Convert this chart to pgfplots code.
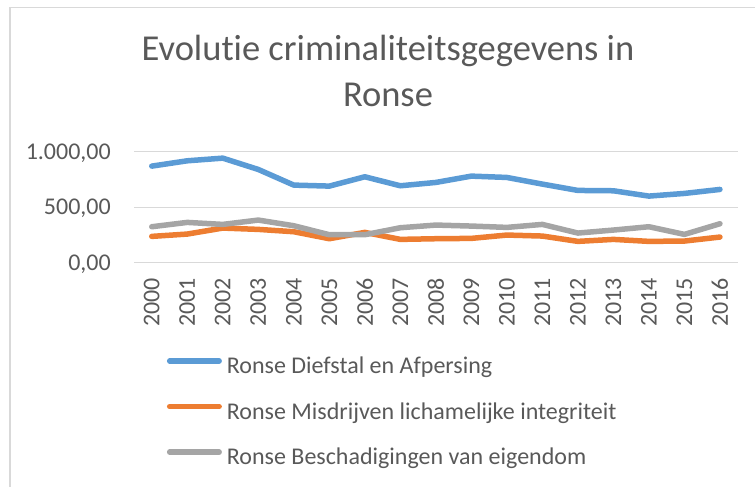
\documentclass[border=0pt]{standalone}
\usepackage{fontspec}
\setmainfont{Carlito}[Ligatures=NoCommon]
\usepackage{pgfplots}
\pgfplotsset{compat=1.18}
\usepackage{pgfplotstable}

\definecolor{txtc}{HTML}{595959}
\definecolor{gridc}{HTML}{D9D9D9}
\definecolor{sblue}{HTML}{5B9BD5}
\definecolor{sorange}{HTML}{ED7D31}
\definecolor{sgray}{HTML}{A5A5A5}

% jaar, diefstal, lichamelijke integriteit, beschadigingen
\pgfplotstableread{
year diefstal integriteit beschadiging
2000 870 237 324
2001 918 258 363
2002 942 312 345
2003 840 300 384
2004 699 279 333
2005 690 216 252
2006 774 273 252
2007 693 210 315
2008 723 216 339
2009 780 219 330
2010 768 249 318
2011 708 240 345
2012 651 192 267
2013 648 210 294
2014 600 192 324
2015 624 195 255
2016 660 231 351
}\ronse

\begin{document}
\begin{tikzpicture}
\path[use as bounding box] (0pt,0pt) rectangle (755pt,487pt);
\draw[gridc, line width=1.3pt] (10pt,0pt) -- (10pt,479.7pt) -- (755pt,479.7pt);
\begin{axis}[
    at={(134pt,224.3pt)}, anchor=south west,
    scale only axis,
    width=603.7pt, height=111pt,
    xmin=1999.5, xmax=2016.5,
    ymin=0, ymax=1000,
    xtick={2000,2001,...,2016},
    ytick={0,500,1000},
    yticklabels={{0,00},{500,00},{1.000,00}},
    /pgf/number format/1000 sep={},
    /pgf/number format/assume math mode=true,
    axis line style={draw=none},
    tick style={draw=none},
    ymajorgrids,
    major grid style={gridc, line width=1.3pt},
    ticklabel style={font=\fontsize{24}{28}\selectfont, text=txtc},
    xticklabel style={rotate=90, anchor=east, inner sep=0pt, xshift=-15pt},
    yticklabel style={anchor=east, inner sep=0pt, xshift=-23pt, yshift=-1.5pt},
    title={Evolutie criminaliteitsgegevens in\\Ronse},
    title style={at={(axis description cs:0.4207,1.355)}, anchor=south,
        align=center, inner sep=0pt, text depth=0pt, text=txtc,
        font=\fontsize{36.5}{45.6}\selectfont},
    legend style={at={(axis description cs:0.0542,-0.852)}, anchor=north west,
        draw=none, fill=none, inner sep=0pt, row sep=23.6pt, column sep=5pt,
        font=\fontsize{24}{28}\selectfont, text=txtc,
        nodes={inner sep=0pt, text height=16pt, text depth=6pt}},
    legend cell align=left,
    legend image code/.code={\draw[#1] (0pt,7.5pt) -- (49.5pt,7.5pt);},
    every axis plot/.append style={line width=5.5pt, line cap=round, line join=round, mark=none},
]
\addplot[sblue] table[x=year, y=diefstal] {\ronse};
\addlegendentry{Ronse Diefstal en Afpersing}
\addplot[sorange] table[x=year, y=integriteit] {\ronse};
\addlegendentry{Ronse Misdrijven lichamelijke integriteit}
\addplot[sgray] table[x=year, y=beschadiging] {\ronse};
\addlegendentry{Ronse Beschadigingen van eigendom}
\end{axis}
\end{tikzpicture}
\end{document}
